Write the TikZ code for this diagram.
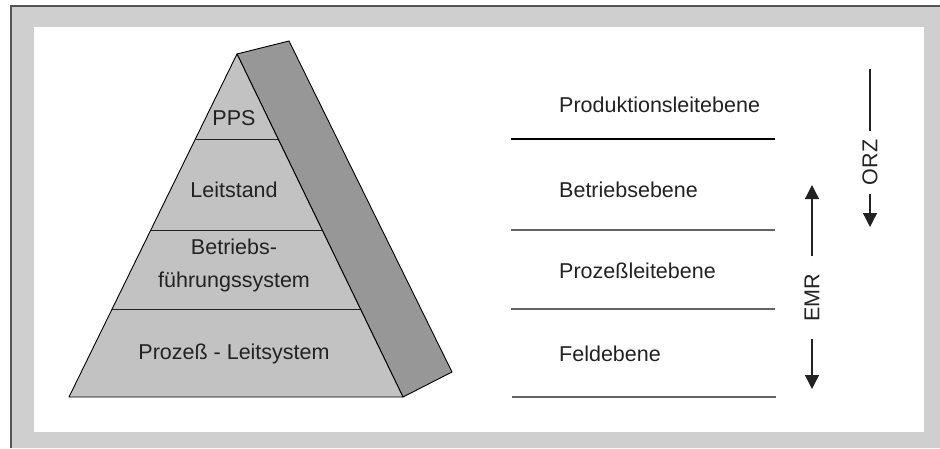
\documentclass[tikz,border=0pt]{standalone}
\usepackage{fontspec}
\setmainfont{Liberation Sans}
\usetikzlibrary{arrows.meta,calc}
\definecolor{framegray}{HTML}{D0CFD0}
\definecolor{frontgray}{HTML}{C2C2C2}
\definecolor{backgray}{HTML}{979797}
\definecolor{edgegray}{HTML}{555555}
\definecolor{txt}{HTML}{222222}
\tikzset{
  lbl/.style={text=txt, font=\fontsize{21.5}{25}\selectfont, inner sep=0pt, align=center},
  lvl/.style={lbl, anchor=west},
  sep/.style={draw=#1, line width=1.2pt},
  vlab/.style={lbl, rotate=90},
  arr/.style={line width=1.3pt, draw=txt, -{Triangle[length=14pt,width=14pt]}},
  plain/.style={line width=1.3pt, draw=txt}
}
\begin{document}
\begin{tikzpicture}[x=1pt,y=-1pt]
\useasboundingbox (0,0) rectangle (940,448);
% frame
\fill[framegray] (11,6) rectangle (940,448);
\draw[edgegray, line width=2pt] (11,448) -- (11,6) -- (940,6);
\fill[white] (34,27) rectangle (924,432);
% pyramid
\coordinate (apex) at (237,54);
\coordinate (backtop) at (289,41);
\coordinate (bl) at (69,397);
\coordinate (br) at (403,397);
\coordinate (backbr) at (452,372);
\filldraw[fill=backgray, draw=black, line width=0.9pt, line join=round] (apex) -- (backtop) -- (backbr) -- (br) -- cycle;
\filldraw[fill=frontgray, draw=black, line width=0.9pt, line join=round] (apex) -- (bl) -- (br) -- cycle;
\draw[line width=1pt, draw=txt] ($(apex)!{(139-54)/343}!(bl)$) -- ($(apex)!{(139-54)/343}!(br)$);
\draw[line width=1pt, draw=txt] ($(apex)!{(230-54)/343}!(bl)$) -- ($(apex)!{(230-54)/343}!(br)$);
\draw[line width=1pt, draw=txt] ($(apex)!{(309-54)/343}!(bl)$) -- ($(apex)!{(309-54)/343}!(br)$);
\node[lbl] (pps) at (234,118) {PPS};
\node[lbl] (leit) at (234,190) {Leitstand};
\node[lbl] (bfs) at (234,265) {Betriebs-\\[8pt]führungssystem};
\node[lbl] (pls) at (234,354) {Prozeß - Leitsystem};
% levels
\node[lvl] (l1) at (559,105) {Produktionsleitebene};
\node[lvl] (l2) at (559,190) {Betriebsebene};
\node[lvl] (l3) at (559,271) {Prozeßleitebene};
\node[lvl] (l4) at (559,354) {Feldebene};
\coordinate (s1a) at (511,139); \coordinate (s1b) at (775,139);
\coordinate (s2a) at (511,230); \coordinate (s2b) at (775,230);
\coordinate (s3a) at (511,309); \coordinate (s3b) at (775,309);
\coordinate (s4a) at (512,397); \coordinate (s4b) at (776,397);
\draw[sep=black] (s1a) -- (s1b);
\draw[sep=txt!70] (s2a) -- (s2b);
\draw[sep=txt!70] (s3a) -- (s3b);
\draw[sep=txt!70] (s4a) -- (s4b);
% ORZ
\node[vlab, inner xsep=9pt] (orz) at (870,162.5) {ORZ};
\coordinate (orztop) at (870,69);
\coordinate (orzbot) at (870,227);
\draw[plain] (orz.east) -- (orztop);
\draw[arr] (orz.west) -- (orzbot);
% EMR
\node[vlab, inner xsep=17pt] (emr) at (812,297.5) {EMR};
\coordinate (emrtop) at (812,185);
\coordinate (emrbot) at (812,389);
\draw[arr] (emr.east) -- (emrtop);
\draw[arr] (emr.west) -- (emrbot);
\end{tikzpicture}
\end{document}
